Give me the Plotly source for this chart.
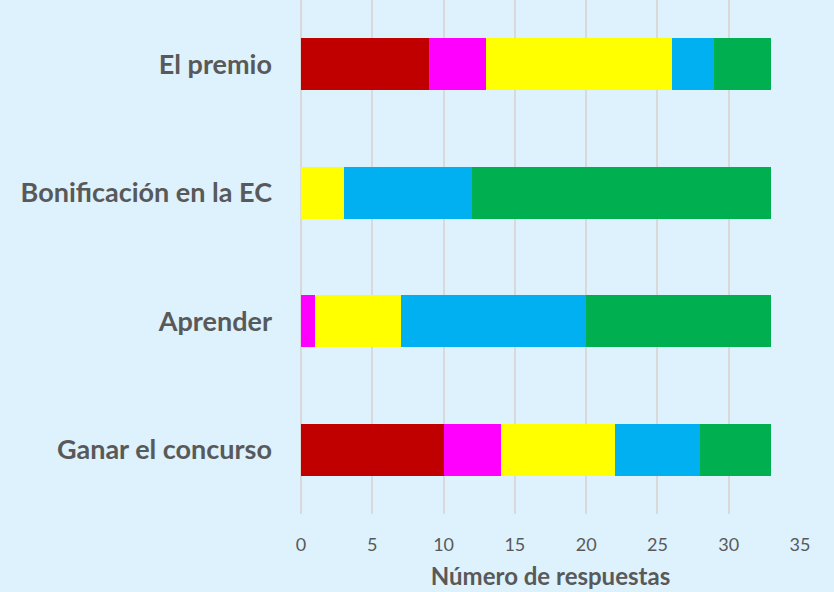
import plotly.graph_objects as go

categories = ["Ganar el concurso", "Aprender", "Bonificación en la EC", "El premio"]
series_names = ["S1", "S2", "S3", "S4", "S5"]
series_colors = ["#C00000", "#FF00FF", "#FFFF00", "#00B0F0", "#00B050"]
s1 = [10, 0, 0, 9]
s2 = [4, 1, 0, 4]
s3 = [8, 6, 3, 13]
s4 = [6, 13, 9, 3]
s5 = [5, 13, 21, 4]
series_values = [s1, s2, s3, s4, s5]
x_ticks = [0, 5, 10, 15, 20, 25, 30, 35]

fig = go.Figure()
for name, col, vals in zip(series_names, series_colors, series_values):
    fig.add_trace(go.Bar(y=categories, x=vals, name=name, orientation="h",
                         marker=dict(color=col, line=dict(width=0)), width=0.405))

bg = "#DDF2FD"
fig.update_layout(
    barmode="stack", showlegend=False, width=834, height=592,
    paper_bgcolor=bg, plot_bgcolor=bg,
    margin=dict(l=301, r=34, t=0, b=78),
    font=dict(family="Lato, Liberation Sans, sans-serif", color="#595959"),
)
fig.update_xaxes(range=[0, 35], tickvals=x_ticks, showgrid=True, gridcolor="#D9D9D9",
                 gridwidth=2, zeroline=True, zerolinecolor="#D9D9D9", zerolinewidth=2,
                 showline=False, tickfont=dict(size=18, color="#595959"),
                 ticks="", ticklabelstandoff=18,
                 title=dict(text="<b>Número de respuestas</b>", font=dict(size=24, color="#595959"), standoff=14))
fig.update_yaxes(categoryorder="array", categoryarray=categories, range=[-0.5, 3.5],
                 showgrid=False, showline=False, ticks="", ticklabelstandoff=28,
                 tickfont=dict(size=27, color="#595959"),
                 tickvals=categories, ticktext=["<b>%s</b>" % c for c in categories])
fig.write_html("out.html", config={"displayModeBar": False},
               post_script="document.body.style.margin='0';document.body.style.background='%s';" % bg)
